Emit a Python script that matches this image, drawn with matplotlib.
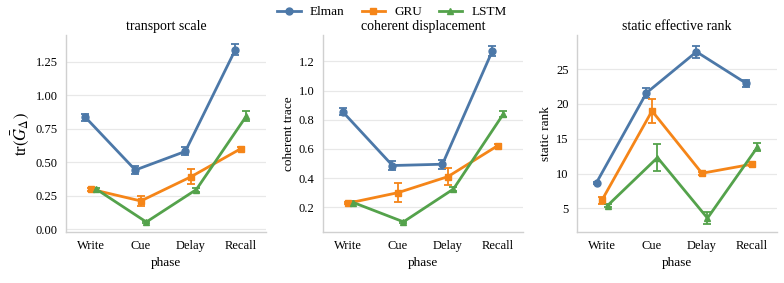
import numpy as np
import matplotlib.pyplot as plt
from matplotlib.lines import Line2D

plt.rcParams['font.family'] = ['Liberation Serif', 'DejaVu Serif']
plt.rcParams['mathtext.fontset'] = 'stix'

phases = ["Write", "Cue", "Delay", "Recall"]
models = ["Elman", "GRU", "LSTM"]
colors = ["#4c78a8", "#f58518", "#54a24b"]
markers = ["o", "s", "^"]

# transport scale
transport_mean = {
    "Elman": [0.837, 0.443, 0.582, 1.340],
    "GRU":   [0.300, 0.212, 0.392, 0.602],
    "LSTM":  [0.300, 0.055, 0.297, 0.845],
}
transport_err = {
    "Elman": [0.025, 0.030, 0.030, 0.040],
    "GRU":   [0.012, 0.035, 0.055, 0.010],
    "LSTM":  [0.010, 0.010, 0.015, 0.035],
}

# coherent displacement
coherent_mean = {
    "Elman": [0.856, 0.486, 0.495, 1.273],
    "GRU":   [0.228, 0.300, 0.410, 0.623],
    "LSTM":  [0.232, 0.100, 0.325, 0.840],
}
coherent_err = {
    "Elman": [0.025, 0.030, 0.030, 0.035],
    "GRU":   [0.008, 0.063, 0.056, 0.012],
    "LSTM":  [0.008, 0.008, 0.012, 0.020],
}

# static effective rank
rank_mean = {
    "Elman": [8.7, 21.6, 27.5, 22.95],
    "GRU":   [6.2, 19.0, 10.05, 11.35],
    "LSTM":  [5.4, 12.3, 3.6, 13.8],
}
rank_err = {
    "Elman": [0.15, 0.75, 0.85, 0.5],
    "GRU":   [0.5, 1.75, 0.2, 0.25],
    "LSTM":  [0.2, 1.95, 0.9, 0.6],
}

panels = [
    ("transport scale", r"$\mathrm{tr}(\bar{G}_\Delta)$", 12, transport_mean, transport_err, (-0.02, 1.45), [0, 0.25, 0.5, 0.75, 1.0, 1.25], "{:.2f}"),
    ("coherent displacement", "coherent trace", 9.5, coherent_mean, coherent_err, (0.03, 1.38), [0.2, 0.4, 0.6, 0.8, 1.0, 1.2], "{:.1f}"),
    ("static effective rank", "static rank", 9.5, rank_mean, rank_err, (1.6, 29.9), [5, 10, 15, 20, 25], "{:.0f}"),
]

fig = plt.figure(figsize=(7.84, 2.83), dpi=100)
lefts = [0.084, 0.412, 0.736]
x = np.arange(len(phases))
offsets = [-0.11, 0.0, 0.11]

for left, (title, ylabel, ysize, means, errs, ylim, yticks, fmt) in zip(lefts, panels):
    ax = fig.add_axes([left, 0.18, 0.255, 0.696])
    for m, c, mk, off in zip(models, colors, markers, offsets):
        ax.errorbar(x + off, means[m], yerr=errs[m], color=c, marker=mk,
                    markersize=5, linewidth=2, elinewidth=1.3, capsize=3,
                    capthick=1.3, label=m)
    ax.set_xlim(-0.5, 3.5)
    ax.set_ylim(*ylim)
    ax.set_yticks(yticks)
    ax.set_yticklabels([fmt.format(v) for v in yticks])
    ax.set_xticks(x)
    ax.set_xticklabels(phases)
    ax.set_title(title, fontsize=10, pad=4)
    ax.set_xlabel("phase", fontsize=9.5, labelpad=3)
    ax.set_ylabel(ylabel, fontsize=ysize, labelpad=3)
    ax.tick_params(labelsize=9, length=0, pad=6)
    ax.grid(axis='y', color='#e8e8e8', linewidth=0.9)
    ax.set_axisbelow(True)
    for s in ['top', 'right']:
        ax.spines[s].set_visible(False)
    for s in ['left', 'bottom']:
        ax.spines[s].set_color('#d0d0d0')
        ax.spines[s].set_linewidth(1.0)

handles = [Line2D([], [], color=c, marker=mk, markersize=5, linewidth=2)
           for c, mk in zip(colors, markers)]
fig.legend(handles, models, loc='upper center', bbox_to_anchor=(0.5, 1.02),
           ncol=3, frameon=False, fontsize=9.5, handlelength=1.75,
           handletextpad=0.7, columnspacing=1.3)

fig.savefig("out.png", dpi=100)
